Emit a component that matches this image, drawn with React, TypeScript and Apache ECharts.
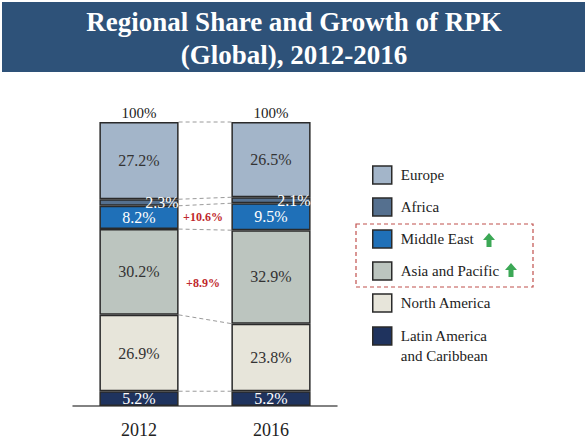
import React, { useEffect, useRef } from "react";
import * as echarts from "echarts";

const years = ["2012", "2016"];
const regions = [
  "Europe",
  "Africa",
  "Middle East",
  "Asia and Pacific",
  "North America",
  "Latin America\nand Caribbean",
];
const europe = [27.2, 26.5];
const africa = [2.3, 2.1];
const middleEast = [8.2, 9.5];
const asiaPacific = [30.2, 32.9];
const northAmerica = [26.9, 23.8];
const latinAmerica = [5.2, 5.2];
const growthLabels = ["+10.6%", "+8.9%"]; // Middle East, Asia and Pacific

const SERIF = "'Liberation Serif', 'Times New Roman', serif";

// stack order, bottom to top
const stackOrder = [
  { name: regions[5], values: latinAmerica, color: "#1F335E", label: "#ffffff", pos: "inside" },
  { name: regions[4], values: northAmerica, color: "#E7E5DA", label: "#333333", pos: "inside" },
  { name: regions[3], values: asiaPacific, color: "#BCC5BF", label: "#333333", pos: "inside" },
  { name: regions[2], values: middleEast, color: "#1F70B8", label: "#ffffff", pos: "inside" },
  { name: regions[1], values: africa, color: "#55708F", label: "#ffffff", pos: "insideRight" },
  { name: regions[0], values: europe, color: "#A3B5C9", label: "#333333", pos: "inside" },
];

const cumulative: number[][] = [];
stackOrder.forEach((s, i) => {
  const prev = i === 0 ? [0, 0] : cumulative[i - 1];
  cumulative.push([prev[0] + s.values[0], prev[1] + s.values[1]]);
});

export default function App() {
  const ref = useRef<HTMLDivElement>(null);
  useEffect(() => {
    if (!ref.current) return;
    const chart = echarts.init(ref.current, undefined, { renderer: "svg" });

    const barSeries = stackOrder.map((s) => ({
      name: s.name,
      type: "bar",
      stack: "total",
      barWidth: "60%",
      data: s.values,
      itemStyle: { color: s.color, borderColor: "#2a2a2a", borderWidth: 1.5 },
      label: {
        show: true,
        position: s.pos,
        distance: 0,
        formatter: "{c}%",
        fontFamily: SERIF,
        fontSize: 16,
        color: s.label,
      },
    }));

    const connectorData = cumulative.map((c) => [0, c[0], c[1]]);
    const midME = [cumulative[2][0] + middleEast[0] / 2, cumulative[2][1] + middleEast[1] / 2];
    const midAP = [cumulative[1][0] + asiaPacific[0] / 2, cumulative[1][1] + asiaPacific[1] / 2];
    const growthData = [
      [0, midME[0], midME[1]],
      [0, midAP[0], midAP[1]],
    ];
    const totalData = years.map((_, i) => [i, Math.round(cumulative[cumulative.length - 1][i])]);

    const legendCommon = {
      orient: "vertical",
      left: 372,
      padding: 0,
      itemWidth: 19,
      itemHeight: 18,
      itemGap: 12,
      icon: "rect",
      selectedMode: false,
      itemStyle: { borderColor: "#2a2a2a", borderWidth: 1.5 },
      textStyle: { fontFamily: SERIF, fontSize: 15, color: "#222", lineHeight: 20, padding: [0, 0, 0, 4] },
    };

    const option: any = {
      animation: false,
      title: {
        text: "Regional Share and Growth of RPK\n(Global), 2012-2016",
        left: "center",
        top: 0,
        textStyle: {
          fontFamily: SERIF,
          fontWeight: "bold",
          fontSize: 27,
          lineHeight: 33,
          color: "#ffffff",
        },
      },
      graphic: [
        { type: "rect", z: -1, shape: { x: 2, y: 2, width: 583, height: 70 }, style: { fill: "#2E5279" } },
        {
          type: "rect",
          shape: { x: 356, y: 224, width: 177, height: 63 },
          style: { fill: "none", stroke: "#C0504D", lineWidth: 1.2, lineDash: [4, 3] },
        },
        {
          type: "polygon",
          shape: { points: [[483, 240], [489, 233], [495, 240], [491.5, 240], [491.5, 247], [486.5, 247], [486.5, 240]] },
          style: { fill: "#3CA856" },
        },
        {
          type: "polygon",
          shape: { points: [[505, 270], [511, 263], [517, 270], [513.5, 270], [513.5, 277], [508.5, 277], [508.5, 270]] },
          style: { fill: "#3CA856" },
        },
      ],
      legend: [
        {
          ...legendCommon,
          top: 165,
          data: regions.slice(0, 5),
        },
        {
          ...legendCommon,
          top: 306,
          data: [regions[5]],
          formatter: (name: string) => " \n" + name,
        },
      ],
      grid: { left: 73, top: 122, width: 264, height: 284, containLabel: false },
      xAxis: {
        type: "category",
        data: years,
        axisTick: { show: false },
        axisLine: { lineStyle: { color: "#5a5a5a", width: 1.5 } },
        axisLabel: { fontFamily: SERIF, fontSize: 18, color: "#222", margin: 15 },
      },
      yAxis: { type: "value", min: 0, max: 100, show: false },
      series: [
        ...barSeries,
        {
          type: "custom",
          name: "connectors",
          encode: { x: 0, y: 1 },
          data: connectorData,
          z: 1,
          renderItem: (params: any, api: any) => {
            const p1 = api.coord([0, api.value(1)]);
            const p2 = api.coord([1, api.value(2)]);
            const hw = api.size([1, 0])[0] * 0.3;
            return {
              type: "line",
              shape: { x1: p1[0] + hw, y1: p1[1], x2: p2[0] - hw, y2: p2[1] },
              style: { stroke: "#9a9a9a", lineWidth: 1, lineDash: [4, 3] },
            };
          },
        },
        {
          type: "custom",
          name: "growth",
          encode: { x: 0, y: 1 },
          data: growthData,
          z: 5,
          renderItem: (params: any, api: any) => {
            const p1 = api.coord([0, api.value(1)]);
            const p2 = api.coord([1, api.value(2)]);
            return {
              type: "text",
              x: (p1[0] + p2[0]) / 2 - 2,
              y: (p1[1] + p2[1]) / 2 + (params.dataIndex === 1 ? 9 : 0),
              style: {
                text: growthLabels[params.dataIndex],
                fill: "#C0282D",
                fontFamily: SERIF,
                fontWeight: "bold",
                fontSize: 12,
                align: "center",
                verticalAlign: "middle",
              },
            };
          },
        },
        {
          type: "custom",
          name: "totals",
          encode: { x: 0, y: 1 },
          data: totalData,
          z: 5,
          renderItem: (params: any, api: any) => {
            const p = api.coord([api.value(0), api.value(1)]);
            return {
              type: "text",
              x: p[0],
              y: p[1] - 9,
              style: {
                text: api.value(1) + "%",
                fill: "#222",
                fontFamily: SERIF,
                fontSize: 15,
                align: "center",
                verticalAlign: "middle",
              },
            };
          },
        },
      ],
    };
    chart.setOption(option);
    return () => chart.dispose();
  }, []);
  return (
    <div
      ref={ref}
      style={{ position: "fixed", left: 0, top: 0, width: 588, height: 441, background: "#fff" }}
    />
  );
}
